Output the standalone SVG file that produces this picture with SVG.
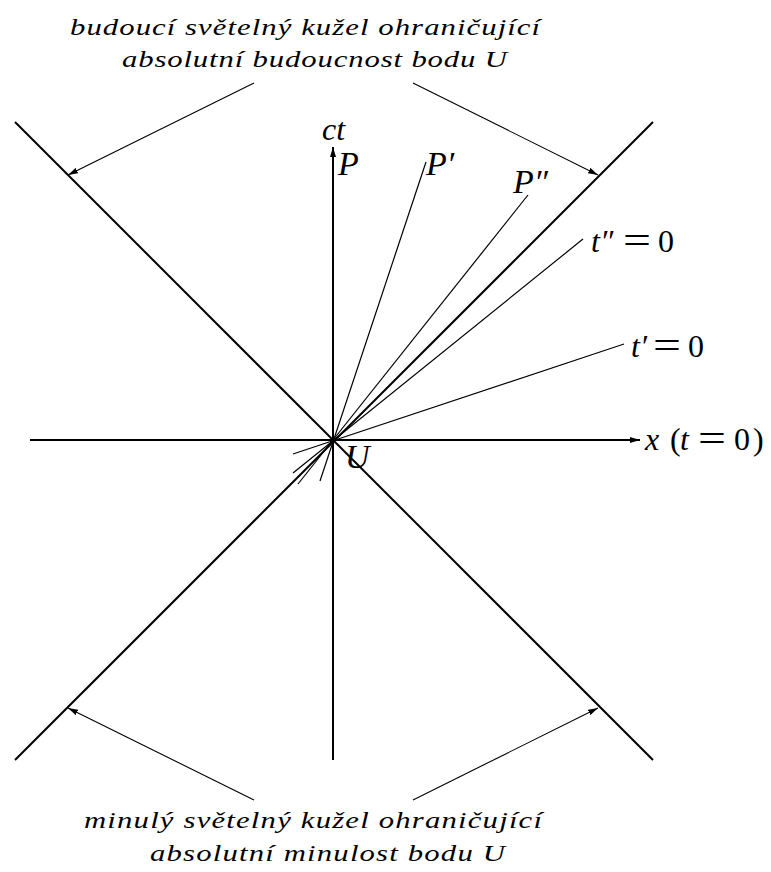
<svg xmlns="http://www.w3.org/2000/svg" width="771" height="872" viewBox="0 0 771 872">
<style>
.bg{fill:#fff}
.cone{stroke:#000;stroke-width:2;fill:none}
.axis{stroke:#000;stroke-width:2;fill:none}
.thin{stroke:#000;stroke-width:1.2;fill:none}
.ptr{stroke:#000;stroke-width:1.1;fill:none}
text{font-family:"Liberation Serif","Times New Roman",serif;fill:#000}
.cap{font-style:italic;font-size:24px}
.m{font-style:italic;font-size:32px}
.mb{font-style:italic;font-size:34px}
.u{font-style:normal;font-size:32px}
.eq{font-style:normal;font-size:38px}
</style>
<defs>
<marker id="ah" viewBox="0 0 10 6" refX="10" refY="3" markerWidth="10" markerHeight="6" markerUnits="userSpaceOnUse" orient="auto">
<path d="M0,0 L10,3 L0,6 Z" fill="#000"/>
</marker>
</defs>
<rect class="bg" x="0" y="0" width="771" height="872"/>
<g id="connectors">
<line id="cone-a" class="cone" x1="15" y1="122" x2="653" y2="760"/>
<line id="cone-b" class="cone" x1="653" y1="122" x2="15" y2="760"/>
<line id="x-axis" class="axis" x1="30" y1="440" x2="640" y2="440" marker-end="url(#ah)"/>
<line id="ct-axis" class="axis" x1="333" y1="760" x2="333" y2="147" marker-end="url(#ah)"/>
<line id="p1-line" class="thin" x1="320" y1="481" x2="426" y2="162"/>
<line id="p2-line" class="thin" x1="298" y1="484" x2="528" y2="195"/>
<line id="t2-line" class="thin" x1="293" y1="473" x2="583" y2="239"/>
<line id="t1-line" class="thin" x1="293" y1="454" x2="624" y2="344"/>
<line id="ptr-tl" class="ptr" x1="254" y1="83" x2="68" y2="175" marker-end="url(#ah)"/>
<line id="ptr-tr" class="ptr" x1="413" y1="83" x2="598" y2="175" marker-end="url(#ah)"/>
<line id="ptr-bl" class="ptr" x1="254" y1="800" x2="68" y2="708" marker-end="url(#ah)"/>
<line id="ptr-br" class="ptr" x1="413" y1="800" x2="598" y2="708" marker-end="url(#ah)"/>
</g>
<g id="caption-future" transform="scale(1.28 1)">
<text class="cap" x="54.7" y="35" textLength="367.2" lengthAdjust="spacing">budoucí světelný kužel ohraničující</text>
<text class="cap" x="95.3" y="67" textLength="300.8" lengthAdjust="spacing">absolutní budoucnost bodu U</text>
</g>
<g id="caption-past" transform="scale(1.28 1)">
<text class="cap" x="65.6" y="828" textLength="357.8" lengthAdjust="spacing">minulý světelný kužel ohraničující</text>
<text class="cap" x="117.2" y="861" textLength="277.3" lengthAdjust="spacing">absolutní minulost bodu U</text>
</g>
<g id="label-ct"><text class="m" x="322" y="140">ct</text></g>
<g id="label-P"><text class="mb" x="338" y="175">P</text></g>
<g id="label-P1"><text class="mb" x="426" y="175">P′</text></g>
<g id="label-P2"><text class="mb" x="513" y="193">P″</text></g>
<g id="label-t2">
<text class="m" x="591" y="252">t″</text>
<text class="eq" x="623" y="253" textLength="28" lengthAdjust="spacingAndGlyphs">=</text>
<text class="u" x="658" y="252">0</text>
</g>
<g id="label-t1">
<text class="m" x="631" y="357">t′</text>
<text class="eq" x="653" y="358" textLength="28" lengthAdjust="spacingAndGlyphs">=</text>
<text class="u" x="688" y="357">0</text>
</g>
<g id="label-x">
<text class="m" x="645" y="450">x</text>
<text class="u" x="670" y="450">(</text>
<text class="m" x="680" y="450">t</text>
<text class="eq" x="698" y="451" textLength="28" lengthAdjust="spacingAndGlyphs">=</text>
<text class="u" x="734" y="450">0</text>
<text class="u" x="753" y="450">)</text>
</g>
<g id="label-U"><text class="mb" x="345" y="468">U</text></g>
</svg>
